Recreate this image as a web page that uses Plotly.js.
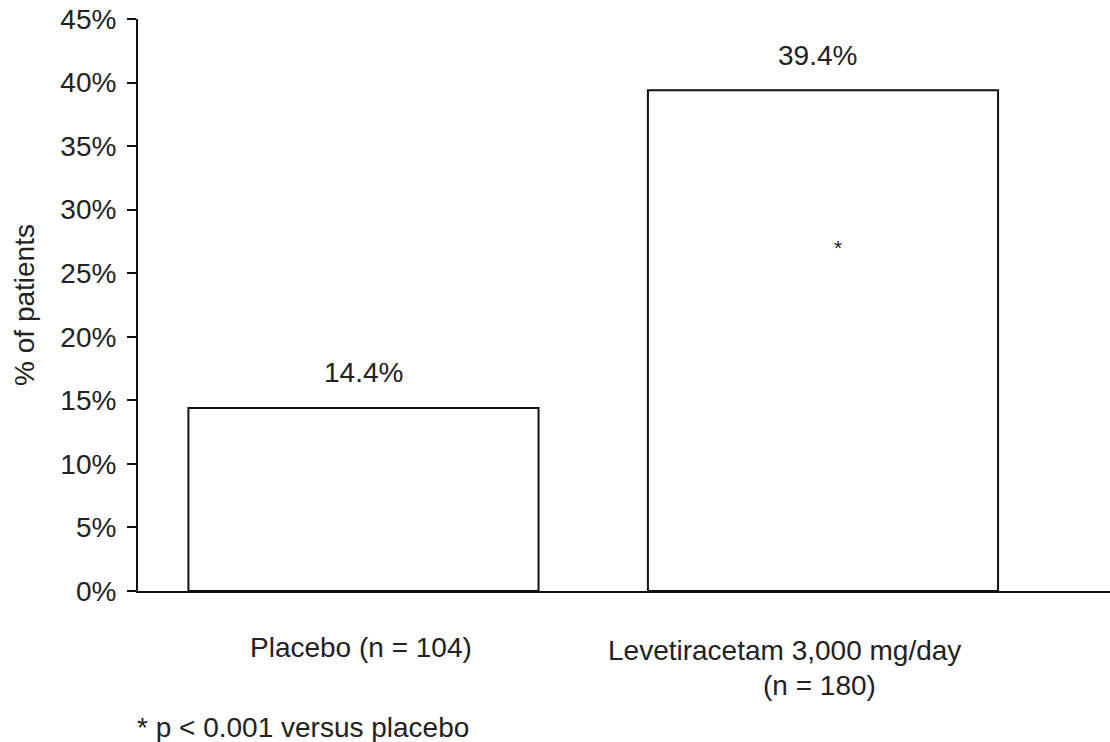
<!DOCTYPE html>
<html>
<head>
<meta charset="utf-8">
<script src="https://cdn.plot.ly/plotly-3.0.1.min.js"></script>
<style>html,body{margin:0;padding:0;background:#fff;}#chart{width:1110px;height:742px;}</style>
</head>
<body>
<div id="chart"></div>
<script>
var categories = ['Placebo', 'Levetiracetam'];
var labelLines = [['Placebo (n = 104)'], ['Levetiracetam 3,000 mg/day', '(n = 180)']];
var values = [14.4, 39.4];
var valueLabels = ['14.4%', '39.4%'];
var yTicks = [0, 5, 10, 15, 20, 25, 30, 35, 40, 45];
var starValue = 27;
var footnote = '* p < 0.001 versus placebo';
var yTitle = '% of patients';

var FONT = 'Liberation Sans, Arial, sans-serif';
var FS = 28;
var TXT = '#222';

var trace = {
  type: 'bar',
  x: categories,
  y: values,
  width: 0.762,
  marker: {color: '#ffffff', line: {color: '#111', width: 2}},
  hoverinfo: 'none'
};

var annotations = [];
// value labels
var valShift = [0, -5];
for (var i = 0; i < categories.length; i++) {
  annotations.push({x: categories[i], y: values[i], xref: 'x', yref: 'y', text: valueLabels[i],
    showarrow: false, xanchor: 'center', yanchor: 'middle', yshift: 35, xshift: valShift[i],
    font: {family: FONT, size: FS, color: TXT}});
}
// category labels
var lineShifts = [[[-2, -56]], [[-38, -59], [-3, -94]]];
for (var c = 0; c < categories.length; c++) {
  for (var l = 0; l < labelLines[c].length; l++) {
    annotations.push({x: categories[c], y: 0, xref: 'x', yref: 'y', text: labelLines[c][l],
      showarrow: false, xanchor: 'center', yanchor: 'middle',
      xshift: lineShifts[c][l][0], yshift: lineShifts[c][l][1],
      font: {family: FONT, size: FS, color: TXT}});
  }
}
// significance star
annotations.push({x: categories[1], y: starValue, xref: 'x', yref: 'y', text: '*',
  showarrow: false, xanchor: 'center', yanchor: 'middle', xshift: 15,
  font: {family: FONT, size: 21, color: TXT}});
// footnote
annotations.push({x: -0.003, y: -0.2395, xref: 'paper', yref: 'paper', text: footnote,
  showarrow: false, xanchor: 'left', yanchor: 'middle',
  font: {family: FONT, size: FS, color: TXT}});

var layout = {
  width: 1110, height: 742,
  margin: {l: 138, r: 0, t: 19, b: 151, pad: 0},
  paper_bgcolor: '#fff', plot_bgcolor: '#fff',
  showlegend: false,
  font: {family: FONT, size: FS, color: TXT},
  xaxis: {
    type: 'category', range: [-0.4907, 1.6246],
    showticklabels: false, ticks: '', showgrid: false, zeroline: false,
    showline: true, linecolor: '#111', linewidth: 2
  },
  yaxis: {
    range: [0, 45], tickvals: yTicks, ticktext: yTicks.map(function (v) { return v + '%'; }),
    ticks: 'outside', ticklen: 9, tickwidth: 2, tickcolor: '#111',
    ticklabelstandoff: 5,
    showline: true, linecolor: '#111', linewidth: 2,
    showgrid: false, zeroline: false,
    tickfont: {family: FONT, size: FS, color: TXT},
    title: {text: yTitle, font: {family: FONT, size: FS, color: TXT}, standoff: 18},
    automargin: false
  },
  annotations: annotations
};

Plotly.newPlot('chart', [trace], layout, {displayModeBar: false, staticPlot: true});
</script>
</body>
</html>
